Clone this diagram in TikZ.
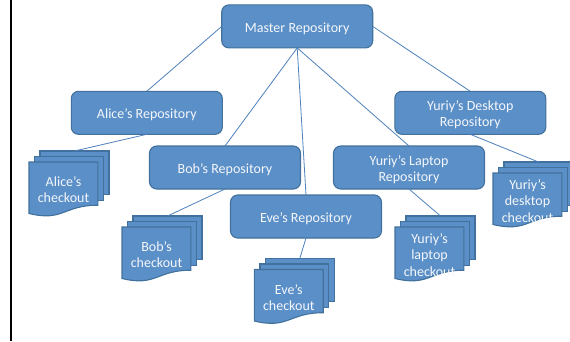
\documentclass[tikz,border=0pt]{standalone}
\usepackage{fontspec}
\setmainfont{Carlito}
\definecolor{boxfill}{RGB}{91,143,199}
\definecolor{boxline}{RGB}{65,113,156}
\definecolor{linkline}{RGB}{79,129,189}
\definecolor{boxtext}{RGB}{244,247,251}
\tikzset{
  repo/.style={draw=boxline, line width=1.1pt, fill=boxfill, rounded corners=7.2pt,
    minimum width=151pt, minimum height=43pt, inner sep=0pt, outer sep=0pt},
  repotext/.style={text=boxtext, align=center, inner sep=0pt,
    font=\fontsize{14}{16}\selectfont},
  page/.style={draw=boxline, line width=1.1pt, fill=boxfill, inner sep=0pt, outer sep=0pt,
    anchor=north west},
  pageedge/.style={draw=boxline, line width=1.1pt, fill=boxfill},
  doctext/.style={text=boxtext, align=center, inner sep=0pt,
    font=\fontsize{14}{16.2}\selectfont},
  link/.style={draw=linkline, line width=0.8pt},
}
% rounded repository box with its label: #1 name, #2 position, #3 label
\newcommand{\repobox}[3]{%
  \node[repo] (#1) at (#2) {};
  \node[repotext] (#1-t) at ([yshift=-2pt]#1.center) {#3};}
% stacked-pages symbol for a working copy: #1 name, #2 x, #3 y (top left), #4 label
\newcommand{\checkoutstack}[4]{%
  \begin{scope}[shift={(#2,#3)}]
    \node[page, minimum width=69pt, minimum height=43.3pt] (#1) at (11,0) {};
    \node[page, minimum width=68.4pt, minimum height=43.6pt] (#1-m) at (5.7,5.5) {};
    \path[pageedge] (0,62.5) .. controls (34.4,70.8) and (34.4,54.2) .. (68.9,54.2)
      -- (68.9,11) -- (0,11) -- cycle;
    \node[doctext] (#1-t) at (34.5,39) {#4};
  \end{scope}}
\begin{document}
\begin{tikzpicture}[x=1pt, y=-1pt]
  \fill[white] (0,0) rectangle (570,341);
  \clip (0,0) rectangle (570,341);
  \fill[black] (10,0) rectangle (12.3,341);

  % repositories
  \repobox{master}{297.2,26.4}{Master Repository}
  \repobox{alice}{146.8,112.8}{Alice’s Repository}
  \repobox{bob}{225,167.5}{Bob’s Repository}
  \repobox{eve}{306,216.5}{Eve’s Repository}
  \repobox{laptop}{409,167.5}{Yuriy’s Laptop\\Repository}
  \repobox{desktop}{470.3,112.8}{Yuriy’s Desktop\\Repository}

  % working copies
  \checkoutstack{alicedoc}{29}{151}{Alice’s\\checkout}
  \checkoutstack{bobdoc}{122}{216}{Bob’s\\checkout}
  \checkoutstack{evedoc}{254.3}{258.5}{Eve’s\\checkout}
  \checkoutstack{laptopdoc}{395}{216}{Yuriy’s\\laptop\\checkout}
  \checkoutstack{desktopdoc}{493}{162}{Yuriy’s\\desktop\\checkout}

  % links between repositories
  \draw[link] (master.west) -- (alice.north);
  \draw[link] (master.east) -- (desktop.north);
  \draw[link] (master.south) -- (bob.north);
  \draw[link] (master.south) -- (eve.north);
  \draw[link] (master.south) -- (laptop.north);

  % links to working copies
  \draw[link] (alice.south) -- (alicedoc.north);
  \draw[link] (bob.south) -- (bobdoc.north);
  \draw[link] (eve.south) -- (evedoc.north);
  \draw[link] (laptop.south) -- (laptopdoc.north);
  \draw[link] (desktop.south) -- (desktopdoc.north);
\end{tikzpicture}
\end{document}
